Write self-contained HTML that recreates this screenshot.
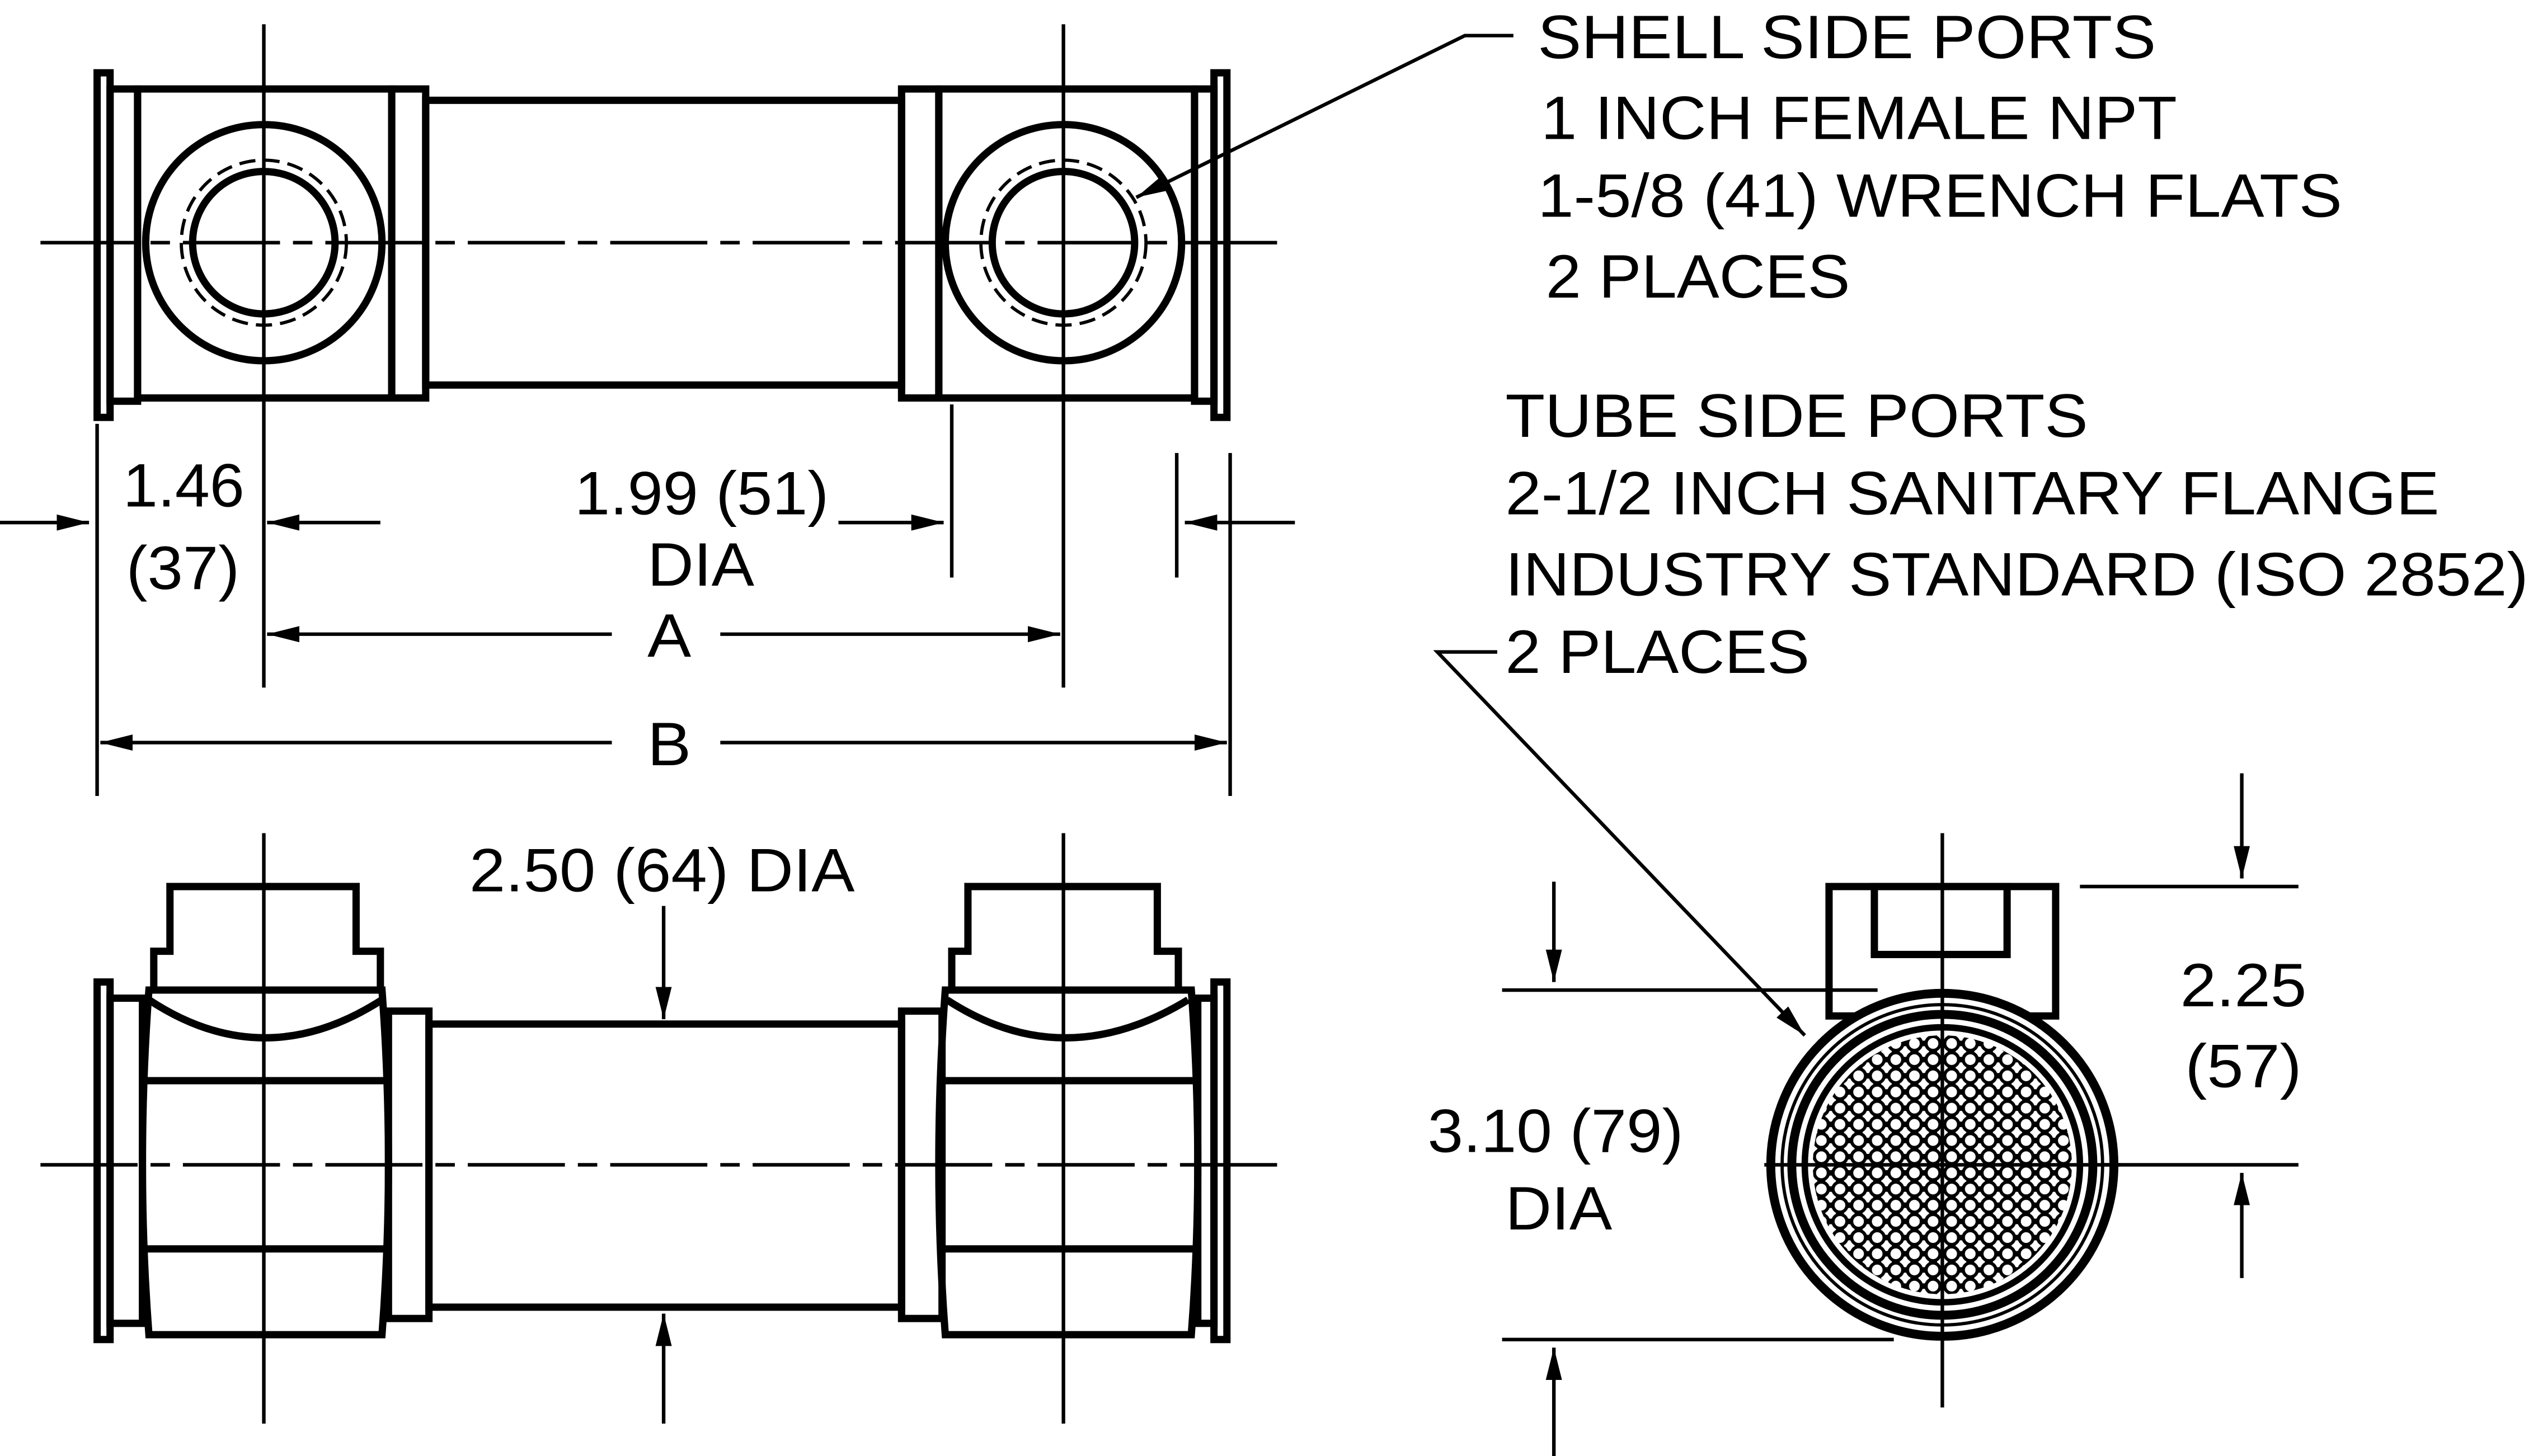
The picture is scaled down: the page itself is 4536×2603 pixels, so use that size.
<!DOCTYPE html>
<html><head><meta charset="utf-8"><style>
html,body{margin:0;padding:0;background:#fff;}
svg{display:block;}
text{font-family:"Liberation Sans",Arial,sans-serif;font-size:38px;fill:#000;}
</style></head><body>
<svg width="4536" height="2603" viewBox="0 0 1568 900" preserveAspectRatio="none" xmlns="http://www.w3.org/2000/svg">
<defs>
<marker id="ar" viewBox="0 0 20 10" refX="20" refY="5" markerWidth="20" markerHeight="10" markerUnits="userSpaceOnUse" orient="auto">
<path d="M0,0 L20,5 L0,10 z" fill="#000"/></marker>
<pattern id="tubes" x="1200" y="720" width="11.5" height="10" patternUnits="userSpaceOnUse">
<circle cx="0" cy="0" r="4.3" fill="#fff" stroke="#000" stroke-width="2"/>
<circle cx="11.5" cy="0" r="4.3" fill="#fff" stroke="#000" stroke-width="2"/>
<circle cx="0" cy="10" r="4.3" fill="#fff" stroke="#000" stroke-width="2"/>
<circle cx="11.5" cy="10" r="4.3" fill="#fff" stroke="#000" stroke-width="2"/>
<circle cx="5.75" cy="5" r="4.3" fill="#fff" stroke="#000" stroke-width="2"/>
</pattern>
<clipPath id="bc"><circle cx="1200" cy="720" r="80"/></clipPath>
</defs>
<g fill="none" stroke="#000" stroke-width="4.5">
<!-- TOP VIEW -->
<rect x="60" y="45" width="8" height="213"/>
<rect x="68" y="55" width="17" height="193"/>
<rect x="85" y="55" width="157" height="191"/>
<rect x="242" y="55" width="21" height="191"/>
<rect x="263" y="62" width="294" height="176"/>
<rect x="557" y="55" width="23" height="191"/>
<rect x="580" y="55" width="158" height="191"/>
<rect x="738" y="55" width="12" height="193"/>
<rect x="750" y="45" width="8" height="213"/>
<circle cx="163" cy="150" r="73"/>
<circle cx="163" cy="150" r="44"/>
<circle cx="163" cy="150" r="51" stroke-width="2" stroke-dasharray="10 5"/>
<circle cx="657" cy="150" r="73"/>
<circle cx="657" cy="150" r="44"/>
<circle cx="657" cy="150" r="51" stroke-width="2" stroke-dasharray="10 5"/>
<g stroke-width="2.2">
<path d="M25 150 H795" stroke-dasharray="60 8 12 8"/>
<path d="M163 15 V425 M657 15 V425"/>
<path d="M60 262 V492 M760 280 V492 M588 250 V357 M727 280 V357"/>
<path d="M0 323 H55" marker-end="url(#ar)"/>
<path d="M235 323 H165" marker-end="url(#ar)"/>
<path d="M518 323 H583" marker-end="url(#ar)"/>
<path d="M800 323 H732" marker-end="url(#ar)"/>
<path d="M378 392 H165" marker-end="url(#ar)"/>
<path d="M445 392 H655" marker-end="url(#ar)"/>
<path d="M378 459 H62" marker-end="url(#ar)"/>
<path d="M445 459 H758" marker-end="url(#ar)"/>
<path d="M935 22 H905 L702 122" marker-end="url(#ar)"/>
<path d="M925 403 H888 L1115 640" marker-end="url(#ar)"/>
</g>
<!-- BOTTOM VIEW -->
<rect x="60" y="607" width="8" height="221"/>
<rect x="68" y="617" width="20" height="201"/>
<path d="M92 612 Q84 720 92 825 H236 Q244 720 236 612 Z"/>
<path d="M90 668 H238 M90 772 H238"/>
<path d="M92 618 Q163 665 236 618"/>
<path d="M95 612 V588 H105 V548 H220 V588 H235 V612"/>
<rect x="240" y="625" width="25" height="190"/>
<rect x="265" y="633" width="292" height="175"/>
<rect x="557" y="625" width="25" height="190"/>
<path d="M584 612 Q576 720 584 825 H736 Q744 720 736 612 Z"/>
<path d="M584 668 H738 M584 772 H738"/>
<path d="M585 618 Q657 665 734 618"/>
<path d="M588 612 V588 H598 V548 H715 V588 H728 V612"/>
<rect x="740" y="617" width="10" height="201"/>
<rect x="750" y="607" width="8" height="221"/>
<g stroke-width="2.2">
<path d="M25 720 H795" stroke-dasharray="60 8 12 8"/>
<path d="M163 515 V880 M657 515 V880"/>
<path d="M410 560 H410 V630" marker-end="url(#ar)"/>
<path d="M410 880 V812" marker-end="url(#ar)"/>
</g>
<!-- END VIEW -->
<rect x="1130" y="548" width="140" height="80"/>
<rect x="1158" y="548" width="82" height="42"/>
<circle cx="1200" cy="720" r="106" fill="#fff" stroke-width="5.5"/>
<circle cx="1200" cy="720" r="99" stroke-width="2"/>
<circle cx="1200" cy="720" r="93" stroke-width="5.5"/>
<circle cx="1200" cy="720" r="85" stroke-width="4"/>
<rect x="1115" y="635" width="170" height="170" fill="url(#tubes)" stroke="none" clip-path="url(#bc)"/>
<g stroke-width="2.2">
<path d="M1200 515 V870 M1090 720 H1310"/>
<path d="M928 612 H1160 M928 828 H1170 M1285 548 H1420 M1300 720 H1420"/>
<path d="M960 545 V607" marker-end="url(#ar)"/>
<path d="M960 900 V833" marker-end="url(#ar)"/>
<path d="M1385 478 V543" marker-end="url(#ar)"/>
<path d="M1385 790 V725" marker-end="url(#ar)"/>
</g>
</g>
<g lengthAdjust="spacingAndGlyphs">
<text x="76" y="313" textLength="75" lengthAdjust="spacingAndGlyphs">1.46</text>
<text x="78" y="364" textLength="70" lengthAdjust="spacingAndGlyphs">(37)</text>
<text x="355" y="318" textLength="157" lengthAdjust="spacingAndGlyphs">1.99 (51)</text>
<text x="400" y="362" textLength="66" lengthAdjust="spacingAndGlyphs">DIA</text>
<text x="400" y="406" textLength="27" lengthAdjust="spacingAndGlyphs">A</text>
<text x="400" y="473" textLength="27" lengthAdjust="spacingAndGlyphs">B</text>
<text x="290" y="551" textLength="238" lengthAdjust="spacingAndGlyphs">2.50 (64) DIA</text>
<text x="882" y="712" textLength="158" lengthAdjust="spacingAndGlyphs">3.10 (79)</text>
<text x="930" y="760" textLength="66" lengthAdjust="spacingAndGlyphs">DIA</text>
<text x="1347" y="622" textLength="78" lengthAdjust="spacingAndGlyphs">2.25</text>
<text x="1350" y="672" textLength="72" lengthAdjust="spacingAndGlyphs">(57)</text>
<text x="950" y="36" textLength="382" lengthAdjust="spacingAndGlyphs">SHELL SIDE PORTS</text>
<text x="952" y="86" textLength="393" lengthAdjust="spacingAndGlyphs">1 INCH FEMALE NPT</text>
<text x="950" y="134" textLength="497" lengthAdjust="spacingAndGlyphs">1-5/8 (41) WRENCH FLATS</text>
<text x="955" y="184" textLength="188" lengthAdjust="spacingAndGlyphs">2 PLACES</text>
<text x="930" y="270" textLength="360" lengthAdjust="spacingAndGlyphs">TUBE SIDE PORTS</text>
<text x="930" y="318" textLength="577" lengthAdjust="spacingAndGlyphs">2-1/2 INCH SANITARY FLANGE</text>
<text x="930" y="368" textLength="632" lengthAdjust="spacingAndGlyphs">INDUSTRY STANDARD (ISO 2852)</text>
<text x="930" y="416" textLength="188" lengthAdjust="spacingAndGlyphs">2 PLACES</text>
</g>
</svg>
</body></html>
